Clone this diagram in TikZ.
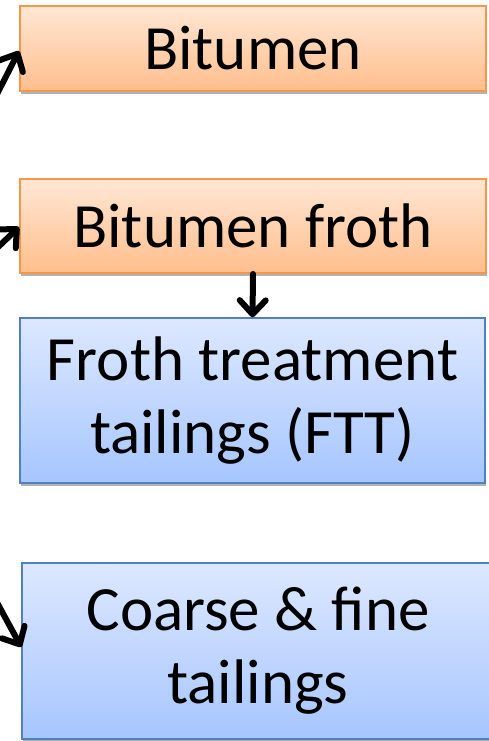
\documentclass[tikz,border=0pt]{standalone}
\usepackage{fontspec}
\setmainfont{Carlito}
\usetikzlibrary{arrows.meta,shadows}

\definecolor{orangeTop}{HTML}{FFE7D4}
\definecolor{orangeBot}{HTML}{FFBE8C}
\definecolor{orangeLine}{HTML}{F79646}
\definecolor{blueTop}{HTML}{DDE8FF}
\definecolor{blueBot}{HTML}{A6C6FF}
\definecolor{blueLine}{HTML}{4F81BD}

\begin{document}
\begin{tikzpicture}[ x=1pt, y=-1pt,
	  box/.style={ rectangle, inner sep=0pt, align=center,
	    font=\fontsize{63}{76}\selectfont,
	    drop shadow={ shadow xshift=1pt, shadow yshift=-3pt, opacity=0.3, fill=black } },
	  orangebox/.style={ box, draw=orangeLine, line width=2pt, top color=orangeTop, bottom color=orangeBot },
	  bluebox/.style={ box, draw=blueLine, line width=1.5pt, top color=blueTop, bottom color=blueBot },
	  flow/.style={ line width=6pt, line cap=round,
	    -{Straight Barb[length=14pt,width=26pt,line cap=round,line join=round]} } ]
	  \useasboundingbox (0,0) rectangle (488,741);

	  % products
	  \node [ orangebox, minimum width=466pt, minimum height=85pt ] (bitumen) at (253,48.5) {Bitumen};
	  \node [ orangebox, minimum width=466pt, minimum height=94pt ] (froth) at (253,226) {Bitumen froth};

	  % tailings
	  \node [ bluebox, minimum width=465pt, minimum height=165pt ] (ftt) at (252.5,400.5) {\raisebox{-3pt}{Froth treatment}\\tailings (FTT)};
	  \node [ bluebox, minimum width=472pt, minimum height=176pt ] (tailings) at (258,651) {\raisebox{-3pt}{Coarse \& fine}\\tailings};

	  % incoming arrows
	  \coordinate (inBitumen) at (-6,100);
	  \coordinate (inFroth) at (-6,251);
	  \coordinate (inTailings) at (-6,597);

	  \draw [ flow ] (inBitumen) -- (bitumen.west |- 0,51);
	  \draw [ flow ] (inFroth) -- (froth.west |- 0,227);
	  \draw [ flow ] (inTailings) -- (tailings.west |- 0,647);
	  \draw [ flow ] (froth.south) -- (ftt.north);
	\end{tikzpicture}
\end{document}
